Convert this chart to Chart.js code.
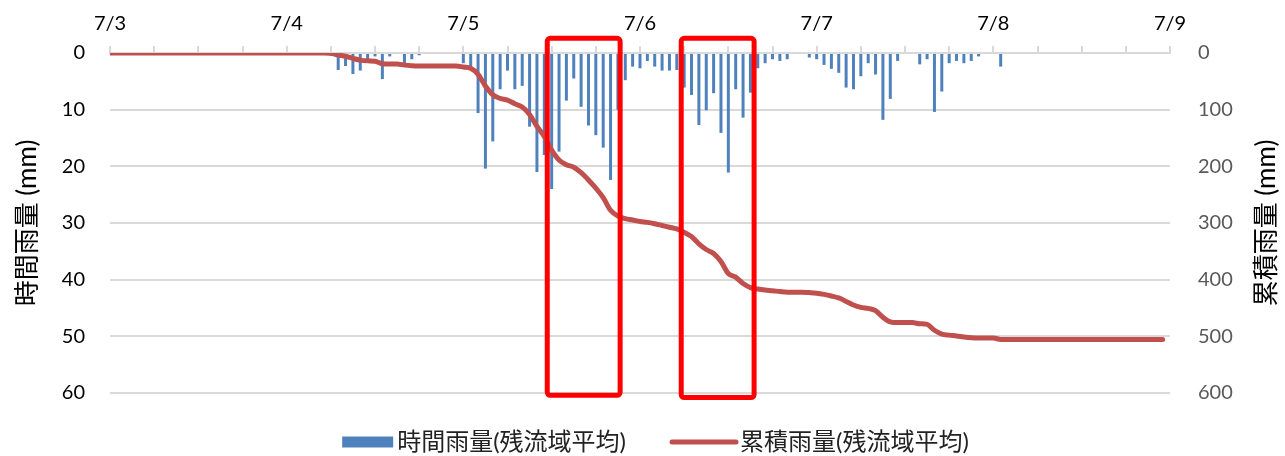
<!DOCTYPE html>
<html>
<head>
<meta charset="utf-8">
<script src="https://cdn.jsdelivr.net/npm/chart.js@4"></script>
<style>
  html, body { margin: 0; padding: 0; background: #fff; }
</style>
</head>
<body>
<canvas id="chart" width="1285" height="456"></canvas>
<script>
// 日付ラベル（上側の軸）
const dayLabels = ['7/3', '7/4', '7/5', '7/6', '7/7', '7/8', '7/9'];

// 時間雨量 (mm) 7/3 0時 から 1時間ごと
const hourlyRain = [
  0, 0, 0, 0, 0, 0, 0, 0, 0, 0, 0, 0, 0, 0, 0, 0, 0, 0, 0, 0, 0, 0, 0, 0,
  0, 0, 0, 0, 0, 0, 0.5, 3.0, 2.3, 3.7, 3.1, 1.2, 0.6, 4.6, 0.6, 0, 1.8, 1.1, 0.4, 0, 0, 0, 0, 0,
  1.8, 2.4, 10.6, 20.4, 15.6, 6.4, 3.1, 6.4, 5.8, 13.0, 21.0, 18.0, 24.0, 17.4, 8.4, 4.5, 9.5, 12.8, 14.5, 16.7, 22.4, 10.0, 4.8, 2.4,
  2.7, 1.4, 2.4, 3.1, 3.1, 3.0, 6.1, 7.4, 12.7, 10.1, 7.1, 14.1, 21.1, 6.4, 11.4, 7.0, 2.7, 1.8, 1.1, 1.4, 1.1, 0, 0, 0.8,
  1.1, 2.1, 2.8, 3.5, 6.1, 6.4, 4.1, 1.8, 3.8, 11.8, 8.1, 1.4, 0, 0, 2.0, 1.1, 10.4, 6.8, 1.8, 1.4, 1.8, 1.4, 0.6, 0,
  0, 2.4, 0, 0, 0, 0, 0, 0, 0, 0, 0, 0, 0, 0, 0, 0, 0, 0, 0, 0, 0, 0, 0, 0
];

// 累積雨量 (mm)
const cumulativeRain = [
  0, 0, 0, 0, 0, 0, 0, 0, 0, 0, 0, 0, 0, 0, 0, 0, 0, 0, 0, 0, 0, 0, 0, 0,
  0, 0, 0, 0, 0, 0, 0.5, 3.5, 5.8, 9.5, 12.6, 13.8, 14.4, 19.0, 19.6, 19.6, 21.4, 22.5, 22.9, 22.9, 22.9, 22.9, 22.9, 22.9,
  24.7, 27.1, 37.7, 58.1, 73.7, 80.1, 83.2, 89.6, 95.4, 108.4, 129.4, 147.4, 171.4, 188.8, 197.2, 201.7, 211.2, 224.0, 238.5, 255.2, 277.6, 287.6, 292.4, 294.8,
  297.5, 298.9, 301.3, 304.4, 307.5, 310.5, 316.6, 324.0, 336.7, 346.8, 353.9, 368.0, 389.1, 395.5, 406.9, 413.9, 416.6, 418.4, 419.5, 420.9, 422.0, 422.0, 422.0, 422.8,
  423.9, 426.0, 428.8, 432.3, 438.4, 444.8, 448.9, 450.7, 454.5, 466.3, 474.4, 475.8, 475.8, 475.8, 477.8, 478.9, 489.3, 496.1, 497.9, 499.3, 501.1, 502.5, 503.1, 503.1,
  503.1, 505.5, 505.5, 505.5, 505.5, 505.5, 505.5, 505.5, 505.5, 505.5, 505.5, 505.5, 505.5, 505.5, 505.5, 505.5, 505.5, 505.5, 505.5, 505.5, 505.5, 505.5, 505.5, 505.5
];

// 赤枠（時刻インデックスと雨量 mm）
const boxStartHour = [59.4, 77.6];
const boxEndHour = [69.3, 87.5];
const boxTopMm = [-2.6, -2.6];
const boxBottomMm = [60.4, 60.8];

const fontFamily = 'Lato, "Noto Sans CJK JP", sans-serif';

// 経過時間 (h) 0 〜 143
const hours = [];
for (let h = 0; h < hourlyRain.length; h++) hours.push(h);

const redBoxes = {
  id: 'redBoxes',
  afterDatasetsDraw(chart) {
    const { ctx, scales } = chart;
    ctx.save();
    ctx.strokeStyle = '#FF0000';
    ctx.lineWidth = 5;
    ctx.lineJoin = 'round';
    for (let i = 0; i < boxStartHour.length; i++) {
      const x1 = scales.x.getPixelForValue(boxStartHour[i]);
      const x2 = scales.x.getPixelForValue(boxEndHour[i]);
      const y1 = scales.y.getPixelForValue(boxTopMm[i]);
      const y2 = scales.y.getPixelForValue(boxBottomMm[i]);
      ctx.beginPath();
      ctx.roundRect(x1, y1, x2 - x1, y2 - y1, 3);
      ctx.stroke();
    }
    ctx.restore();
  }
};

// 右軸タイトルと凡例
const extras = {
  id: 'extras',
  afterDraw(chart) {
    const { ctx, chartArea } = chart;
    ctx.save();
    ctx.translate(chart.width - 18, (chartArea.top + chartArea.bottom) / 2);
    ctx.rotate(-Math.PI / 2);
    ctx.font = '26px ' + fontFamily;
    ctx.fillStyle = '#000';
    ctx.textAlign = 'center';
    ctx.textBaseline = 'middle';
    ctx.fillText('累積雨量 (mm)', 0, 0);
    ctx.restore();

    // 凡例
    const ds = chart.data.datasets;
    ctx.save();
    ctx.font = '24px ' + fontFamily;
    ctx.textBaseline = 'middle';
    const w1 = ctx.measureText(ds[0].label).width;
    const w2 = ctx.measureText(ds[1].label).width;
    const total = 51 + 4 + w1 + 44 + 68 + 2 + w2;
    let x = chart.width / 2 + 13 - total / 2;
    const y = 442;
    ctx.fillStyle = ds[0].backgroundColor;
    ctx.fillRect(x, y - 5.5, 51, 11);
    x += 55;
    ctx.fillStyle = '#222';
    ctx.fillText(ds[0].label, x, y);
    x += w1 + 44;
    ctx.strokeStyle = ds[1].borderColor;
    ctx.lineWidth = 5;
    ctx.lineCap = 'round';
    ctx.beginPath();
    ctx.moveTo(x + 2, y);
    ctx.lineTo(x + 66, y);
    ctx.stroke();
    x += 70;
    ctx.fillText(ds[1].label, x, y);
    ctx.restore();
  }
};

const ctx = document.getElementById('chart');
new Chart(ctx, {
  data: {
    labels: hours,
    datasets: [{
      type: 'bar',
      label: '時間雨量(残流域平均)',
      data: hourlyRain,
      backgroundColor: '#4F81BD',
      barThickness: 3,
      inflateAmount: 0,
      yAxisID: 'y',
      order: 1
    }, {
      type: 'line',
      label: '累積雨量(残流域平均)',
      data: cumulativeRain,
      borderColor: '#C0504D',
      backgroundColor: '#C0504D',
      borderWidth: 5,
      borderCapStyle: 'round',
      pointRadius: 0,
      cubicInterpolationMode: 'monotone',
      yAxisID: 'y2',
      order: 0
    }]
  },
  options: {
    responsive: false,
    devicePixelRatio: 1,
    animation: false,
    layout: { padding: { left: 12, right: 0, top: 0, bottom: 63 } },
    plugins: {
      tooltip: { enabled: false },
      legend: { display: false }
    },
    scales: {
      x: {
        type: 'linear',
        position: 'top',
        min: 0,
        max: 144,
        offset: false,
        afterFit: s => { s.height = 53; },
        grid: {
          offset: false,
          drawOnChartArea: false,
          drawTicks: true,
          tickLength: 7,
          color: '#d9d9d9',
          lineWidth: 2
        },
        border: { display: true, color: '#d9d9d9', width: 2 },
        ticks: {
          stepSize: 6,
          autoSkip: false,
          maxRotation: 0,
          padding: 10,
          color: '#000',
          font: { family: fontFamily, size: 20 },
          callback: value => (value % 24 === 0 ? dayLabels[value / 24] : '')
        }
      },
      y: {
        position: 'left',
        reverse: true,
        min: 0,
        max: 60,
        afterFit: s => { s.width = 98; },
        ticks: {
          stepSize: 10,
          padding: 25,
          color: '#000',
          font: { family: fontFamily, size: 20 }
        },
        grid: { color: '#d9d9d9', lineWidth: 2, drawTicks: false },
        border: { display: false },
        title: {
          display: true,
          text: '時間雨量 (mm)',
          color: '#000',
          font: { family: fontFamily, size: 26 },
          padding: { top: 0, bottom: 0 }
        }
      },
      y2: {
        position: 'right',
        reverse: true,
        min: 0,
        max: 600,
        afterFit: s => { s.width = 115; },
        ticks: {
          stepSize: 100,
          padding: 28,
          color: '#595959',
          font: { family: fontFamily, size: 20 }
        },
        grid: { drawOnChartArea: false, drawTicks: false },
        border: { display: false }
      }
    }
  },
  plugins: [redBoxes, extras]
});
</script>
</body>
</html>
